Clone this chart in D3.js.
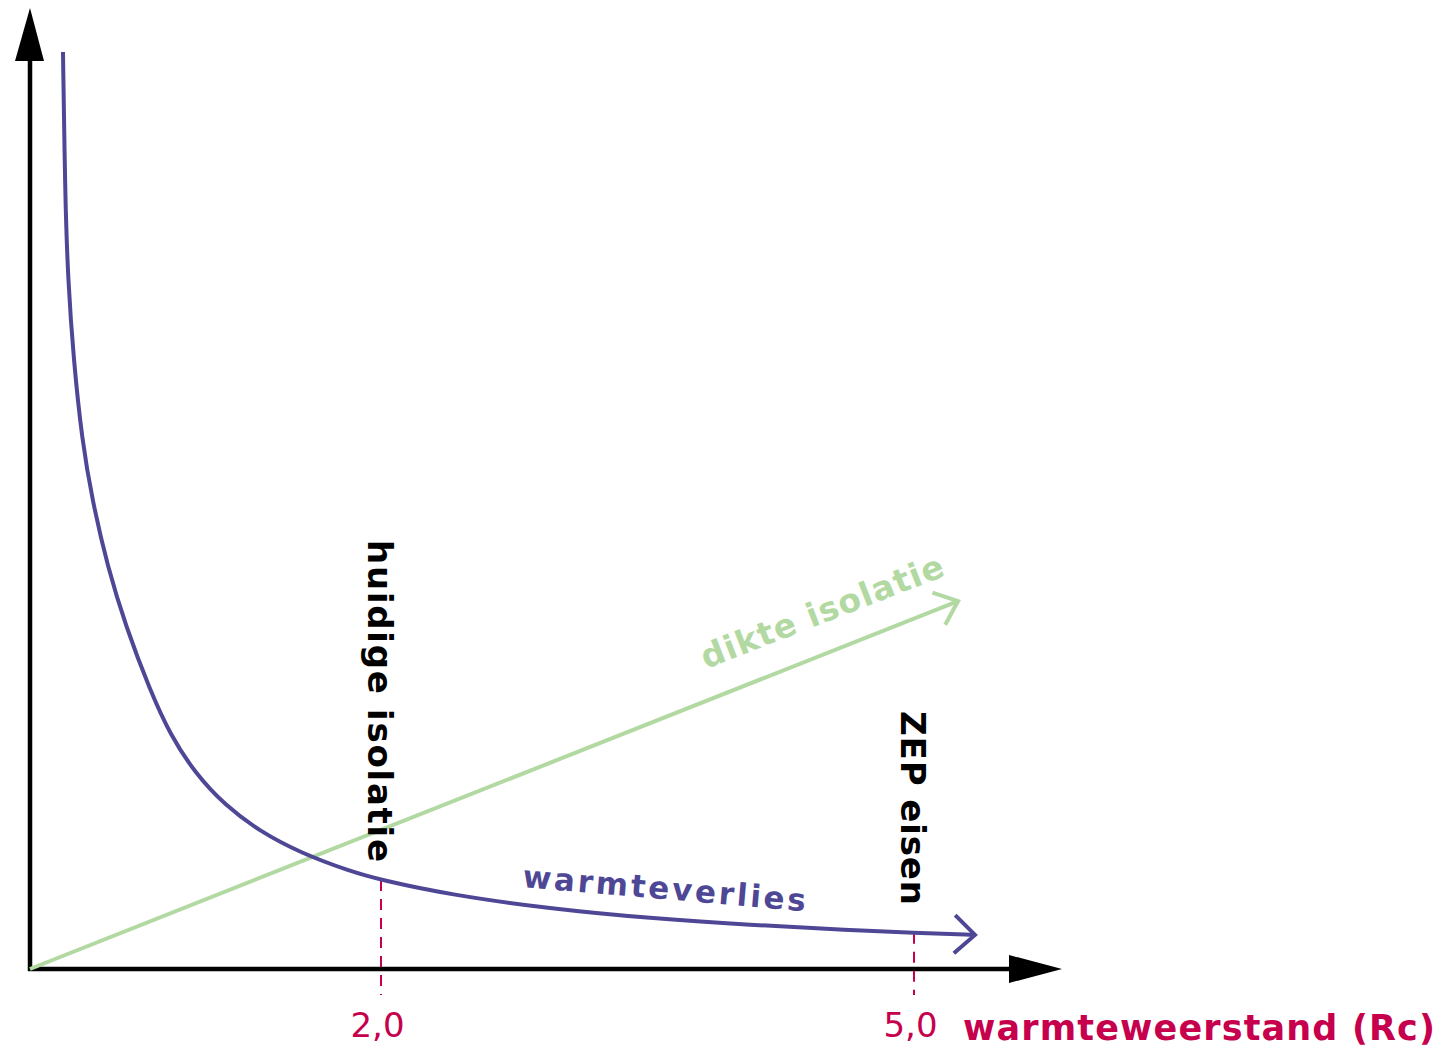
<!DOCTYPE html>
<html>
<head>
<meta charset="utf-8">
<script src="https://cdn.jsdelivr.net/npm/d3@7"></script>
<style>
  html, body { margin: 0; padding: 0; background: #fff; }
  svg { display: block; font-family: "DejaVu Sans", sans-serif; }
</style>
</head>
<body>
<svg id="chart" width="1454" height="1048"></svg>
<script>
// ---- data ----
const rcValues   = [0.2101, 0.2225, 0.2383, 0.2698, 0.3171, 0.3745, 0.4611, 0.5647, 0.6998, 0.8124, 0.9531, 1.1219, 1.3189, 1.5441, 1.8255, 2.0, 2.3884, 2.9512, 3.5141, 4.0769, 4.6398, 5.0, 5.3433];
const lossValues = [5.161, 4.328, 3.878, 3.428, 2.977, 2.640, 2.263, 1.925, 1.569, 1.320, 1.103, 0.921, 0.774, 0.655, 0.550, 0.501, 0.418, 0.339, 0.285, 0.248, 0.219, 0.204, 0.192];
const thicknessRc     = [0.024, 5.248];
const thicknessValues = [0, 2.071];
const tickValues = [2, 5];
const tickLabels = ["2,0", "5,0"];
const tickLoss   = [0.501, 0.204];
const xTitle = "warmteweerstand (Rc)";
const lossLabel = "warmteverlies";
const thicknessLabel = "dikte isolatie";
const markerLabels = ["huidige isolatie", "ZEP eisen"];

// ---- styles ----
const PURPLE = "#4e4795", GREEN = "#b2d9a2", RED = "#c6004c", BLACK = "#000";
const svg = d3.select("#chart");
const originX = 30, originY = 969;

const x = d3.scaleLinear().domain([2, 5]).range([381, 914]);
const pxPerUnit = (914 - 381) / 3;
const y = d3.scaleLinear().domain([0, 5]).range([originY, originY - 5 * pxPerUnit]);

// ---- axes (arrows) ----
svg.append("line").attr("x1", originX).attr("y1", originY + 2).attr("x2", originX).attr("y2", 58)
  .attr("stroke", BLACK).attr("stroke-width", 4.5);
svg.append("path").attr("d", d3.line()([[originX, 8], [originX - 15, 61], [originX + 14, 61]]) + "Z").attr("fill", BLACK);
svg.append("line").attr("x1", originX - 2).attr("y1", originY).attr("x2", 1012).attr("y2", originY)
  .attr("stroke", BLACK).attr("stroke-width", 4.5);
svg.append("path").attr("d", d3.line()([[1062, originY], [1009, originY - 14], [1009, originY + 14]]) + "Z").attr("fill", BLACK);

// ---- dashed markers ----
tickValues.forEach((v, i) => {
  svg.append("line")
    .attr("x1", x(v)).attr("x2", x(v))
    .attr("y1", y(tickLoss[i])).attr("y2", originY + 26)
    .attr("stroke", RED).attr("stroke-width", 2).attr("stroke-dasharray", "11,8");
});

// tick labels via d3 axis
const axis = d3.axisBottom(x).tickValues(tickValues).tickSize(0)
  .tickFormat((d, i) => tickLabels[i]);
const ag = svg.append("g").attr("transform", `translate(0,${originY})`).call(axis);
ag.select(".domain").remove();
ag.selectAll("text")
  .attr("y", 68).attr("dy", 0).attr("dx", -4)
  .attr("fill", RED).attr("font-size", 34).attr("font-weight", 400)
  .attr("font-family", "'DejaVu Sans', sans-serif");

svg.append("text").attr("x", 963).attr("y", 1040)
  .attr("fill", RED).attr("font-size", 35).attr("font-weight", 700)
  .attr("textLength", 472).attr("lengthAdjust", "spacing")
  .text(xTitle);

// ---- arrowhead helper ----
function chevron(p1, p2, len, angDeg, color) {
  const a = Math.atan2(p1[1] - p2[1], p1[0] - p2[0]);
  const d = angDeg * Math.PI / 180;
  const a1 = [p2[0] + len * Math.cos(a + d), p2[1] + len * Math.sin(a + d)];
  const a2 = [p2[0] + len * Math.cos(a - d), p2[1] + len * Math.sin(a - d)];
  svg.append("path").attr("d", d3.line()([a1, p2, a2]))
    .attr("fill", "none").attr("stroke", color).attr("stroke-width", 4)
    .attr("stroke-linecap", "butt").attr("stroke-linejoin", "miter");
}

// ---- dikte isolatie (green) ----
const greenPts = thicknessRc.map((r, i) => [x(r), y(thicknessValues[i])]);
svg.append("path").attr("d", d3.line()(greenPts))
  .attr("fill", "none").attr("stroke", GREEN).attr("stroke-width", 4);
chevron(greenPts[0], greenPts[1], 27, 40, GREEN);

// ---- warmteverlies (purple) ----
const purplePts = rcValues.map((r, i) => [x(r), y(lossValues[i])]);
svg.append("path").attr("d", d3.line().curve(d3.curveBasis)(purplePts))
  .attr("fill", "none").attr("stroke", PURPLE).attr("stroke-width", 4);
chevron(purplePts[purplePts.length - 2], purplePts[purplePts.length - 1], 28, 43, PURPLE);

// ---- labels ----
svg.append("text")
  .attr("transform", "translate(706,669) rotate(-21.3)")
  .attr("fill", GREEN).attr("font-size", 33).attr("font-weight", 700)
  .attr("textLength", 258).attr("lengthAdjust", "spacing")
  .text(thicknessLabel);

svg.append("text")
  .attr("transform", "translate(522,887) rotate(4.9)")
  .attr("fill", PURPLE).attr("font-size", 31).attr("font-weight", 700)
  .attr("textLength", 284).attr("lengthAdjust", "spacing")
  .text(lossLabel);

const markerStart = [540, 711];
const markerLen = [322, 194];
tickValues.forEach((v, i) => {
  svg.append("text")
    .attr("transform", `translate(${x(v) - 13},${markerStart[i]}) rotate(90)`)
    .attr("fill", BLACK).attr("font-size", 34).attr("font-weight", 700)
    .attr("textLength", markerLen[i]).attr("lengthAdjust", "spacing")
    .text(markerLabels[i]);
});
</script>
</body>
</html>
